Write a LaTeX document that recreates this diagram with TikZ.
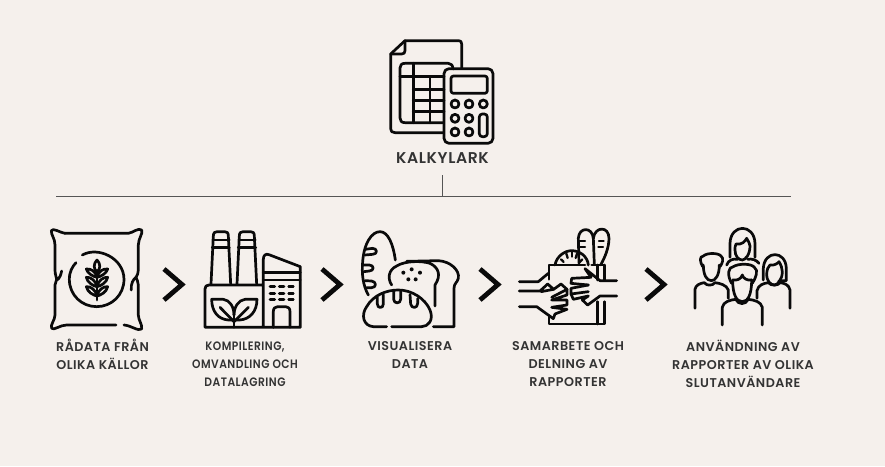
\documentclass[tikz,border=0pt]{standalone}
\usepackage{fontspec}
\setmainfont{Poppins SemiBold}[LetterSpace=4]
\newfontfamily\narrowcap{Poppins SemiBold}[LetterSpace=4,FakeStretch=0.88]
\definecolor{paper}{HTML}{F5F0EC}
\definecolor{ink}{HTML}{0A0A0A}
\definecolor{capt}{HTML}{333333}
\definecolor{rule}{HTML}{555555}
\tikzset{
  icon/.style={draw=ink,line width=2.7pt,line cap=round,line join=round},
  thin icon/.style={icon,line width=2.3pt},
  chevron/.style={draw=ink,line width=4.8pt,line cap=butt,miter limit=10},
  caption/.style={font=\fontsize{12.7}{18}\selectfont,text=capt,align=center},
  railline/.style={draw=rule,line width=1pt}
}
\begin{document}
\begin{tikzpicture}[x=1pt,y=-1pt]
\useasboundingbox[fill=paper] (0,0) rectangle (885,466);

\node[caption,font=\fontsize{15.6}{18}\selectfont] (kalkyl) at (442.5,158){KALKYLARK};
\coordinate (stem) at (442,175);
\coordinate (railL) at (56,196);
\coordinate (railM) at (442,196);
\coordinate (railR) at (791,196);
\draw[railline] (stem) -- (railM);
\draw[railline] (railL) -- (railR);

\node[caption] (cap1) at (102.5,354.5){RÅDATA FRÅN\\OLIKA KÄLLOR};
\node[caption,font=\narrowcap\fontsize{12.2}{18}\selectfont] (cap2) at (245,364){KOMPILERING,\\OMVANDLING OCH\\DATALAGRING};
\node[caption] (cap3) at (410,355){VISUALISERA\\DATA};
\node[caption] (cap4) at (568,364){SAMARBETE OCH\\DELNING AV\\RAPPORTER};
\node[caption] (cap5) at (743,364){ANVÄNDNING AV\\RAPPORTER AV OLIKA\\SLUTANVÄNDARE};

\foreach \x in {164,322,480,646}
  \draw[chevron] (\x,269) -- (\x+18,284.5) -- (\x,300);

% spreadsheet and calculator
\begin{scope}[shift={(370,30)},x=0.3333pt,y=-0.3333pt]
\draw[icon] (218,308) -- (75,308) .. controls (66,308) and (62,304) .. (62,296) -- (62,72) -- (105,32) -- (266,32) .. controls (272,32) and (275,35) .. (275,42) -- (275,115);
\draw[icon] (62,72) -- (95,72) .. controls (102,72) and (105,68) .. (105,62) -- (105,32);
\draw[icon] (218,278) -- (105,278) .. controls (95,278) and (90,273) .. (90,264) -- (90,114) .. controls (90,105) and (95,100) .. (105,100) -- (235,100) .. controls (244,100) and (248,106) .. (249,117);
\draw[icon] (130,100) -- (130,278);
\draw[icon] (90,140) -- (222,140);
\draw[icon] (130,178) -- (222,178);
\draw[icon] (130,212) -- (222,212);
\draw[icon] (130,245) -- (222,245);
\draw[icon] (180,140) -- (180,278);
\draw[icon,rounded corners=5pt] (222,116) rectangle (369,340);
\draw[icon,rounded corners=2.5pt] (243,138) rectangle (352,190);
\draw[icon] (255,222) circle (12);
\draw[icon] (297,222) circle (12);
\draw[icon] (340,222) circle (12);
\draw[icon] (255,265) circle (12);
\draw[icon] (297,265) circle (12);
\draw[icon] (255,306) circle (12);
\draw[icon] (297,306) circle (12);
\draw[icon,rounded corners=3pt] (328,252) rectangle (352,320);
\end{scope}

% sack of grain
\begin{scope}[shift={(40,220)},x=0.3333pt,y=-0.3333pt]
\draw[icon] (75,40) .. controls (60,38) and (38,22) .. (34,32) .. controls (33,45) and (45,55) .. (45,75) -- (45,150) .. controls (45,165) and (50,172) .. (50,178) .. controls (50,182) and (60,178) .. (65,153);
\draw[icon] (50,178) .. controls (48,185) and (45,188) .. (45,195) -- (45,285) .. controls (45,300) and (30,315) .. (35,325) .. controls (42,332) and (60,315) .. (80,315) -- (228,315);
\draw[icon] (252,315) .. controls (272,316) and (295,335) .. (305,327) .. controls (308,315) and (295,300) .. (295,285) -- (295,195) .. controls (295,185) and (290,178) .. (288,172) .. controls (280,178) and (272,190) .. (274,210);
\draw[icon] (288,172) .. controls (292,165) and (295,160) .. (295,150) -- (295,75) .. controls (295,55) and (310,40) .. (305,30) .. controls (295,22) and (280,38) .. (265,40) -- (75,40);
\draw[icon] (127,105) .. controls (175,78) and (252,115) .. (252,178) .. controls (252,225) and (215,260) .. (170,260) .. controls (125,260) and (88,225) .. (88,178) .. controls (88,155) and (97,140) .. (108,128);
\draw[icon] (171,150) -- (171,240);
\draw[icon] (171,120) .. controls (160,130) and (160,148) .. (171,157) .. controls (182,148) and (182,130) .. (171,120);
\draw[icon] (171,172) .. controls (160,170) and (142,160) .. (139,147) .. controls (152,145) and (168,155) .. (171,172);
\draw[icon] (171,172) .. controls (182,170) and (200,160) .. (203,147) .. controls (190,145) and (174,155) .. (171,172);
\draw[icon] (171,200) .. controls (160,198) and (142,188) .. (139,172) .. controls (152,170) and (168,183) .. (171,200);
\draw[icon] (171,200) .. controls (182,198) and (200,188) .. (203,172) .. controls (190,170) and (174,183) .. (171,200);
\draw[icon] (171,228) .. controls (160,226) and (142,216) .. (139,200) .. controls (152,198) and (168,211) .. (171,228);
\draw[icon] (171,228) .. controls (182,226) and (200,216) .. (203,200) .. controls (190,198) and (174,211) .. (171,228);
\end{scope}

% factory
\begin{scope}[shift={(195,220)},x=0.3333pt,y=-0.3333pt]
\draw[icon] (48,192) -- (55,48) .. controls (55,38) and (60,35) .. (66,35) -- (89,35) .. controls (96,35) and (100,38) .. (100,48) -- (107,192);
\draw[icon] (53,60) -- (103,60);
\draw[icon] (52,82) -- (103,82);
\draw[icon] (126,192) -- (133,48) .. controls (133,38) and (138,35) .. (144,35) -- (167,35) .. controls (174,35) and (178,38) .. (178,48) -- (185,192);
\draw[icon] (131,60) -- (181,60);
\draw[icon] (130,82) -- (182,82);
\draw[icon] (205,195) -- (42,195) .. controls (34,195) and (30,199) .. (30,207) -- (30,322) -- (316,322) -- (316,140) -- (222,104) .. controls (212,100) and (205,106) .. (205,118) -- (205,322);
\draw[icon] (205,158) -- (316,158);
\draw[icon] (205,180) -- (316,180);
\draw[icon] (225,200) -- (239,200); \draw[icon] (253,200) -- (267,200); \draw[icon] (281,200) -- (295,200);
\draw[icon] (225,220) -- (239,220); \draw[icon] (253,220) -- (267,220); \draw[icon] (281,220) -- (295,220);
\draw[icon] (225,238) -- (239,238); \draw[icon] (253,238) -- (267,238); \draw[icon] (281,238) -- (295,238);
\draw[icon] (235,322) -- (235,275) .. controls (235,265) and (240,260) .. (248,260) -- (272,260) .. controls (280,260) and (285,265) .. (285,275) -- (285,322);
\draw[icon] (117,322) -- (117,285);
\draw[icon] (117,300) -- (100,300) .. controls (70,298) and (50,275) .. (50,238) -- (85,238) .. controls (105,240) and (117,262) .. (117,285);
\draw[icon] (117,300) -- (134,300) .. controls (164,298) and (186,275) .. (186,238) -- (150,238) .. controls (130,240) and (117,262) .. (117,285);
\draw[icon] (75,262) -- (117,305);
\draw[icon] (160,262) -- (117,305);
\end{scope}

% bread
\begin{scope}[shift={(350,220)},x=0.3333pt,y=-0.3333pt]
\draw[icon] (55,225) .. controls (38,195) and (35,160) .. (38,125) .. controls (42,70) and (65,35) .. (90,35) .. controls (115,35) and (130,75) .. (136,120);
\draw[icon] (45,88) -- (68,85) .. controls (83,85) and (83,103) .. (68,103) -- (45,105);
\draw[icon] (40,135) -- (58,135) .. controls (73,135) and (73,153) .. (58,153) -- (42,155);
\draw[icon] (45,182) -- (65,183) .. controls (80,185) and (80,203) .. (65,203) -- (50,203);
\draw[icon] (125,195) .. controls (112,175) and (115,150) .. (140,138) .. controls (165,122) and (215,122) .. (240,130) .. controls (265,142) and (275,165) .. (255,195) -- (255,258);
\draw[icon] (170,124) -- (265,122) .. controls (300,124) and (330,150) .. (325,175) .. controls (322,188) and (312,190) .. (312,205) -- (312,320) -- (250,320);
\draw[icon] (110,320) -- (70,320) .. controls (40,318) and (32,285) .. (50,260) .. controls (70,225) and (110,210) .. (145,210) .. controls (185,210) and (225,235) .. (240,270) .. controls (252,300) and (235,320) .. (215,320) -- (125,320);
\draw[icon] (82,232) -- (82,252) .. controls (82,266) and (100,266) .. (100,252) -- (100,224);
\draw[icon] (131,214) -- (131,238) .. controls (131,252) and (152,252) .. (152,238) -- (152,214);
\draw[icon] (180,224) -- (182,252) .. controls (184,266) and (203,266) .. (203,250) -- (203,236);
\fill[ink] (160,158) circle (6);
\fill[ink] (185,148) circle (6);
\fill[ink] (210,158) circle (6);
\fill[ink] (175,178) circle (6);
\fill[ink] (197,178) circle (6);
\end{scope}

% hands and bag
\begin{scope}[shift={(505,220)},x=0.3333pt,y=-0.3333pt]
\draw[icon] (132,178) -- (132,135) -- (240,135);
\draw[icon] (132,290) -- (132,312) -- (298,312) -- (298,245);
\draw[icon] (278,245) -- (278,312);
\draw[icon] (298,135) -- (298,180);
\draw[icon] (278,135) -- (278,180);
\draw[icon] (260,135) -- (298,135);
\draw[icon] (150,135) .. controls (155,108) and (180,92) .. (200,92) .. controls (225,92) and (248,110) .. (250,135);
\draw[thin icon] (168,118) -- (176,126); \draw[thin icon] (200,96) -- (200,110); \draw[thin icon] (184,101) -- (188,114); \draw[thin icon] (216,101) -- (212,114); \draw[thin icon] (232,118) -- (224,126);
\draw[icon] (222,130) -- (220,55) .. controls (222,20) and (262,20) .. (265,55) -- (268,132);
\draw[icon] (265,55) .. controls (270,18) and (312,18) .. (312,55) .. controls (312,85) and (298,115) .. (287,135);
\draw[thin icon] (222,62) -- (240,62); \draw[thin icon] (222,82) -- (240,82); \draw[thin icon] (282,62) -- (296,62); \draw[thin icon] (280,82) -- (294,82);
\draw[icon] (43,185) -- (100,185) -- (130,160);
\draw[icon] (43,213) -- (105,213) -- (128,192) -- (146,208) -- (108,215);
\draw[icon] (146,208) -- (168,192) -- (186,208) -- (140,232);
\draw[icon] (186,208) -- (186,225) -- (140,240) -- (186,240) -- (186,255) -- (140,262) -- (186,268) -- (150,282);
\draw[icon] (43,260) -- (95,260) -- (145,296) -- (150,282);
\draw[icon] (335,182) -- (285,182) -- (240,146) -- (258,172) -- (200,175) -- (198,190) -- (250,195);
\draw[icon] (250,195) -- (198,205) -- (198,222) -- (250,215);
\draw[icon] (198,222) -- (205,238) -- (250,228) -- (232,240) -- (248,255) -- (285,228) -- (335,228);
\end{scope}

% people
\begin{scope}[shift={(635,220)},x=0.3333pt,y=-0.3333pt]
\draw[icon] (285,112) -- (285,70) .. controls (287,10) and (358,10) .. (360,70) -- (360,112);
\draw[icon] (300,90) .. controls (300,82) and (300,78) .. (303,72) .. controls (320,75) and (330,65) .. (335,55) .. controls (340,65) and (345,70) .. (345,78) .. controls (345,105) and (330,120) .. (322,120) .. controls (310,120) and (300,108) .. (300,90);
\draw[icon] (275,135) .. controls (280,120) and (295,115) .. (308,118);
\draw[icon] (338,118) .. controls (350,115) and (365,120) .. (372,130);
\draw[icon] (180,265) -- (180,208) .. controls (182,195) and (195,190) .. (208,188) .. controls (215,198) and (232,198) .. (240,188) .. controls (255,190) and (275,195) .. (280,210) -- (280,235);
\draw[icon] (203,140) .. controls (195,125) and (192,110) .. (205,108) .. controls (215,98) and (250,98) .. (258,108) .. controls (268,115) and (262,130) .. (255,140);
\draw[icon] (205,135) .. controls (205,165) and (215,182) .. (229,182) .. controls (242,182) and (253,165) .. (253,135);
\draw[icon] (262,315) -- (262,262) .. controls (265,245) and (285,240) .. (302,238) .. controls (310,255) and (332,255) .. (340,238) .. controls (358,240) and (378,245) .. (382,262) -- (382,315);
\draw[icon] (290,190) .. controls (275,165) and (280,140) .. (295,140) .. controls (310,130) and (350,130) .. (358,142) .. controls (372,150) and (362,175) .. (352,190);
\draw[icon] (293,180) .. controls (293,225) and (305,245) .. (322,245) .. controls (338,245) and (350,225) .. (350,180);
\draw[icon] (293,180) .. controls (305,182) and (318,178) .. (322,165) .. controls (325,175) and (335,182) .. (350,180);
\draw[icon] (385,180) -- (385,145) .. controls (388,90) and (452,90) .. (454,145) -- (454,182) -- (432,182);
\draw[icon] (395,165) .. controls (395,148) and (400,140) .. (405,135) .. controls (415,138) and (430,130) .. (432,125) .. controls (438,135) and (442,145) .. (442,155) .. controls (442,178) and (428,195) .. (418,195) .. controls (405,195) and (395,180) .. (395,165);
\draw[icon] (366,235) -- (366,212) .. controls (370,195) and (385,190) .. (400,188) .. controls (408,198) and (428,198) .. (436,188) .. controls (450,190) and (462,195) .. (465,210) -- (465,265);
\end{scope}
\end{tikzpicture}
\end{document}
